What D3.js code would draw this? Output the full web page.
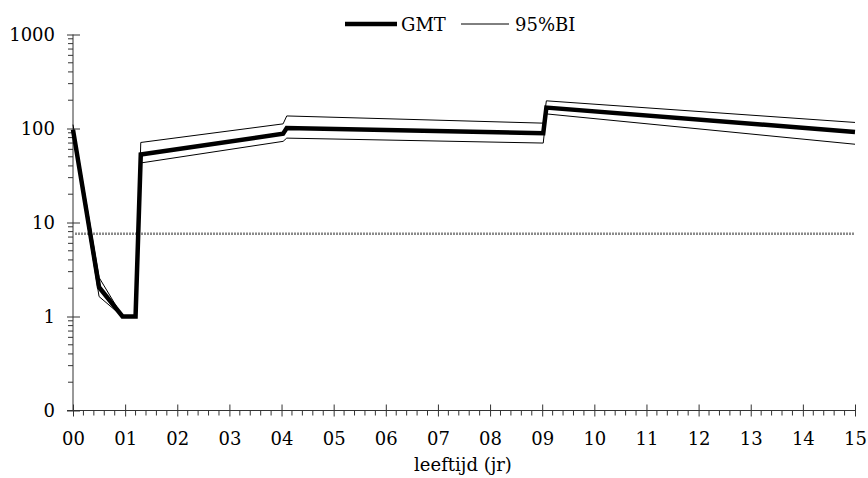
<!DOCTYPE html>
<html>
<head>
<meta charset="utf-8">
<script src="https://cdn.jsdelivr.net/npm/d3@7"></script>
<style>
  body { margin: 0; background: #fff; }
</style>
</head>
<body>
<div id="chart"></div>
<script>
// leeftijd (jaren) en GMT met 95% betrouwbaarheidsinterval
var ages  = [0, 0.5, 0.95, 1.2, 1.3, 4.03, 4.1, 9.02, 9.08, 15];
var gmt   = [97, 2.05, 1, 1, 53, 88, 101, 89, 167, 92];
var upper = [110, 2.6, 1, 1, 71, 112, 136, 114, 197, 116];
var lower = [90, 1.63, 1, 1, 43, 73, 79, 70, 143, 68];
var cutoff = 7.6;

var yMajor = [0.1, 1, 10, 100, 1000];
var yLabels = ["0", "1", "10", "100", "1000"];
var xMajor = d3.range(0, 16);
var xLabels = xMajor.map(d => (d < 10 ? "0" : "") + d);

var font = "'DejaVu Serif', 'Liberation Serif', serif";

var svgWidth = 868, svgHeight = 478;
var svg = d3.select("#chart").append("svg")
  .attr("width", svgWidth)
  .attr("height", svgHeight);

var x = d3.scaleLinear().domain([0, 15]).range([73, 855]);
var y = d3.scaleLog().domain([0.1, 1000]).range([410.5, 34.5]);

// minor ticks
var xMinor = d3.range(0, 75).map(i => i / 5).filter(d => d % 1 !== 0);
var yMinor = [];
yMajor.slice(0, 4).forEach(function(m) {
  d3.range(2, 10).forEach(k => yMinor.push(m * k));
});

var axisColor = "#333";

// x axis
var xAxis = svg.append("g")
  .attr("transform", `translate(0, ${y(0.1)})`)
  .call(d3.axisBottom(x).tickValues(xMajor).tickFormat((d, i) => xLabels[i]).tickSize(6).tickPadding(16));
xAxis.attr("font-family", font).attr("font-size", 18);
xAxis.select(".domain").remove();
xAxis.selectAll(".tick line").attr("y1", -6).attr("stroke", axisColor);
xAxis.selectAll(".tick text").attr("fill", "#000");
xAxis.append("line")
  .attr("x1", x(0) - 6).attr("x2", x(15))
  .attr("stroke", axisColor);
xAxis.selectAll(".minor").data(xMinor).enter().append("line")
  .attr("x1", d => x(d)).attr("x2", d => x(d))
  .attr("y1", 0).attr("y2", 5)
  .attr("stroke", axisColor);

// y axis
var yAxis = svg.append("g")
  .attr("transform", `translate(${x(0)}, 0)`)
  .call(d3.axisLeft(y).tickValues(yMajor).tickFormat((d, i) => yLabels[i]).tickSize(6).tickPadding(12));
yAxis.attr("font-family", font).attr("font-size", 18);
yAxis.select(".domain").remove();
yAxis.selectAll(".tick line").attr("x1", 7).attr("stroke", axisColor);
yAxis.selectAll(".tick text").attr("fill", "#000");
yAxis.append("line")
  .attr("y1", y(0.1)).attr("y2", y(1000))
  .attr("stroke", axisColor);
yAxis.selectAll(".minor").data(yMinor).enter().append("line")
  .attr("x1", -5).attr("x2", 0)
  .attr("y1", d => y(d)).attr("y2", d => y(d))
  .attr("stroke", axisColor);

// afkapwaarde
svg.append("line")
  .attr("x1", x(0) + 2).attr("x2", x(15))
  .attr("y1", y(cutoff)).attr("y2", y(cutoff))
  .attr("stroke", "#8a8a8a")
  .attr("stroke-width", 2.5)
  .attr("stroke-dasharray", "2,1");

var line = d3.line()
  .x(d => x(d[0]))
  .y(d => y(d[1]));

[upper, lower].forEach(function(series) {
  svg.append("path")
    .datum(ages.map((a, i) => [a, series[i]]))
    .attr("d", line)
    .attr("fill", "none")
    .attr("stroke", "#000")
    .attr("stroke-width", 1);
});

svg.append("path")
  .datum(ages.map((a, i) => [a, gmt[i]]))
  .attr("d", line)
  .attr("fill", "none")
  .attr("stroke", "#000")
  .attr("stroke-width", 4.5)
  .attr("stroke-linejoin", "miter");

// x-as titel
svg.append("text")
  .attr("x", 463)
  .attr("y", 471)
  .attr("text-anchor", "middle")
  .attr("font-family", font)
  .attr("font-size", 18)
  .text("leeftijd (jr)");

// legenda
var legend = svg.append("g")
  .attr("font-family", font)
  .attr("font-size", 18);
legend.append("line")
  .attr("x1", 345).attr("x2", 397)
  .attr("y1", 24).attr("y2", 24)
  .attr("stroke", "#000").attr("stroke-width", 4.5);
legend.append("text")
  .attr("x", 401).attr("y", 31)
  .text("GMT");
legend.append("line")
  .attr("x1", 461).attr("x2", 509)
  .attr("y1", 24).attr("y2", 24)
  .attr("stroke", "#000").attr("stroke-width", 1);
legend.append("text")
  .attr("x", 515).attr("y", 31)
  .text("95%BI");
</script>
</body>
</html>
